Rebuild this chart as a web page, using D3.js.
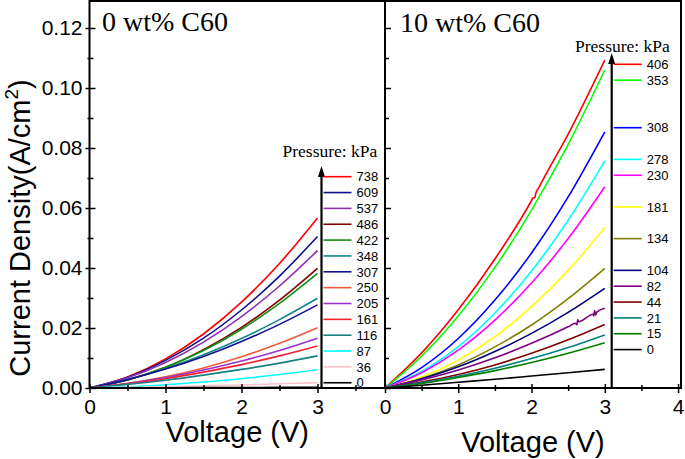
<!DOCTYPE html>
<html><head><meta charset="utf-8">
<script src="https://cdn.jsdelivr.net/npm/d3@7"></script>
<style>body{margin:0;background:#fff}svg{display:block}</style>
</head><body>
<svg id="c" width="685" height="459"></svg>
<script>
// ---------- DATA ----------
const voltages = [0, 0.5, 1, 1.5, 2, 2.5, 3];

const leftTitle = "0 wt% C60";
const leftPressures = [738, 609, 537, 486, 422, 348, 307, 250, 205, 161, 116, 87, 36, 0];
const leftColors = ["#ff0000", "#10108a", "#9030b0", "#800000", "#109010", "#108888", "#101090",
                    "#f05a3c", "#9932cc", "#ee2233", "#168080", "#00ffff", "#ffc0cb", "#000000"];
const leftValues = [
  [0, 0.0037, 0.0097, 0.0180, 0.0286, 0.0415, 0.0567],
  [0, 0.0036, 0.0092, 0.0166, 0.0260, 0.0373, 0.0505],
  [0, 0.0034, 0.0085, 0.0153, 0.0238, 0.0340, 0.0458],
  [0, 0.0027, 0.0069, 0.0128, 0.0202, 0.0293, 0.0399],
  [0, 0.0027, 0.0069, 0.0125, 0.0196, 0.0282, 0.0382],
  [0, 0.0028, 0.0065, 0.0111, 0.0165, 0.0228, 0.0299],
  [0, 0.0028, 0.0063, 0.0105, 0.0155, 0.0212, 0.0277],
  [0, 0.0015, 0.0037, 0.0067, 0.0104, 0.0149, 0.0201],
  [0, 0.0015, 0.0035, 0.0060, 0.0090, 0.0125, 0.0166],
  [0, 0.0014, 0.0031, 0.0053, 0.0078, 0.0107, 0.0140],
  [0, 0.0012, 0.0026, 0.0043, 0.0062, 0.0083, 0.0107],
  [0, 0.0004, 0.0011, 0.0020, 0.0031, 0.0045, 0.0061],
  [0, 0.0002, 0.0004, 0.0007, 0.0010, 0.0014, 0.0018],
  [0, 0.00003, 0.00007, 0.00011, 0.00015, 0.0002, 0.00025]
];

const rightTitle = "10 wt% C60";
const rightPressures = [406, 353, 308, 278, 230, 181, 134, 104, 82, 44, 21, 15, 0];
const rightColors = ["#ff0000", "#00ff00", "#0000ff", "#00ffff", "#ff00ff", "#ffff00", "#808000",
                     "#000080", "#800080", "#800000", "#008080", "#008000", "#000000"];
const rightValues = [
  [0, 0.0117, 0.0261, 0.0430, 0.0625, 0.0846, 0.1093],
  [0, 0.0106, 0.0240, 0.0402, 0.0593, 0.0812, 0.1060],
  [0, 0.0068, 0.0165, 0.0293, 0.0450, 0.0637, 0.0854],
  [0, 0.0055, 0.0138, 0.0250, 0.0390, 0.0559, 0.0757],
  [0, 0.0051, 0.0126, 0.0226, 0.0350, 0.0498, 0.0671],
  [0, 0.0036, 0.0093, 0.0171, 0.0271, 0.0392, 0.0534],
  [0, 0.0032, 0.0077, 0.0137, 0.0210, 0.0298, 0.0399],
  [0, 0.0031, 0.0071, 0.0122, 0.0182, 0.0252, 0.0332],
  [0, 0.0027, 0.0060, 0.0101, 0.0149, 0.0204, 0.0266],
  [0, 0.0020, 0.0045, 0.0077, 0.0116, 0.0161, 0.0212],
  [0, 0.0017, 0.0039, 0.0066, 0.0098, 0.0135, 0.0177],
  [0, 0.0015, 0.0035, 0.0058, 0.0085, 0.0116, 0.0151],
  [0, 0.0009, 0.0019, 0.0029, 0.0040, 0.0051, 0.0062]
];
// small measured glitches (voltage, current) in two of the 10 wt% curves
const glitch406 = [[2.02, 0.0634], [2.045, 0.0634], [2.055, 0.0646], [2.1, 0.0668]];
const glitch82 = [[2.60, 0.0216], [2.62, 0.0211], [2.63, 0.0228], [2.645, 0.0221],
                  [2.84, 0.0246], [2.85, 0.0240], [2.86, 0.0258], [2.875, 0.0243], [2.89, 0.0253]];
const rightLegendSlots = [0, 1, 4, 6, 7, 9, 11, 13, 14, 15, 16, 17, 18];

const yMajor = [0, 0.02, 0.04, 0.06, 0.08, 0.10, 0.12];
const yMinor = [0.01, 0.03, 0.05, 0.07, 0.09, 0.11];
const xMajorL = [0, 1, 2, 3];
const xMinorL = [0.5, 1.5, 2.5, 3.5];
const xMajorR = [0, 1, 2, 3, 4];
const xMinorR = [0.5, 1.5, 2.5, 3.5];

// ---------- LAYOUT ----------
const svg = d3.select("#c");
const SANS = "'Liberation Sans', Arial, sans-serif";
const SERIF = "'Liberation Serif', 'Times New Roman', serif";
const topY = 1, bottomY = 388;
const y = d3.scaleLinear().domain([0, 0.129]).range([bottomY, topY]);
const xL = d3.scaleLinear().domain([0, 3.888]).range([89.5, 385]);
const xR = d3.scaleLinear().domain([0, 4.04]).range([385, 681]);

function zip(vals) { return voltages.map((v, i) => [v, vals[i]]); }

function drawCurves(x, values, colors, extras) {
  const line = d3.line().x(d => x(d[0])).y(d => y(d[1])).curve(d3.curveMonotoneX);
  values.forEach((vals, i) => {
    let pts = zip(vals);
    if (extras && extras[i]) pts = pts.concat(extras[i]).sort((a, b) => a[0] - b[0]);
    svg.append("path").attr("d", line(pts)).attr("fill", "none")
      .attr("stroke", colors[i]).attr("stroke-width", 1.6);
  });
}

drawCurves(xL, leftValues, leftColors, null);
drawCurves(xR, rightValues, rightColors, {0: glitch406, 8: glitch82});

function styleAxis(g) {
  g.select(".domain").remove();
  g.selectAll("line").attr("stroke", "#000").attr("stroke-width", 1.5);
  g.selectAll("text").attr("font-family", SANS).attr("font-size", 21).attr("fill", "#000");
}
// left panel y axis
svg.append("g").attr("transform", `translate(${xL(0)},0)`)
  .call(d3.axisLeft(y).tickValues(yMajor).tickSize(4).tickPadding(3).tickFormat(d3.format(".2f"))).call(styleAxis);
svg.append("g").attr("transform", `translate(${xL(0)},0)`)
  .call(d3.axisLeft(y).tickValues(yMajor).tickSize(-6).tickFormat("")).call(styleAxis);
svg.append("g").attr("transform", `translate(${xL(0)},0)`)
  .call(d3.axisLeft(y).tickValues(yMinor).tickSize(2).tickFormat("")).call(styleAxis);
svg.append("g").attr("transform", `translate(${xL(0)},0)`)
  .call(d3.axisLeft(y).tickValues(yMinor).tickSize(-4).tickFormat("")).call(styleAxis);
// right panel y axis (inward ticks)
svg.append("g").attr("transform", `translate(${xR(0)},0)`)
  .call(d3.axisLeft(y).tickValues(yMajor).tickSize(-6).tickFormat("")).call(styleAxis);
svg.append("g").attr("transform", `translate(${xR(0)},0)`)
  .call(d3.axisLeft(y).tickValues(yMinor).tickSize(-4).tickFormat("")).call(styleAxis);

// x axes
[[xL, xMajorL, xMinorL], [xR, xMajorR, xMinorR]].forEach(([x, maj, min]) => {
  svg.append("g").attr("transform", `translate(0,${bottomY})`)
    .call(d3.axisBottom(x).tickValues(maj).tickSize(5).tickPadding(6).tickFormat(d3.format("d"))).call(styleAxis);
  svg.append("g").attr("transform", `translate(0,${bottomY})`)
    .call(d3.axisBottom(x).tickValues(maj).tickSize(-4).tickFormat("")).call(styleAxis);
  svg.append("g").attr("transform", `translate(0,${bottomY})`)
    .call(d3.axisBottom(x).tickValues(min).tickSize(3).tickFormat("")).call(styleAxis);
  svg.append("g").attr("transform", `translate(0,${bottomY})`)
    .call(d3.axisBottom(x).tickValues(min).tickSize(-3).tickFormat("")).call(styleAxis);
});

// frames
svg.append("rect").attr("x", xL(0)).attr("y", topY).attr("width", xR(0) - xL(0)).attr("height", bottomY - topY)
  .attr("fill", "none").attr("stroke", "#000").attr("stroke-width", 2);
svg.append("rect").attr("x", xR(0)).attr("y", topY).attr("width", xR.range()[1] - xR(0)).attr("height", bottomY - topY)
  .attr("fill", "none").attr("stroke", "#000").attr("stroke-width", 2);

// panel titles
svg.append("text").attr("x", 102).attr("y", 31).attr("font-family", SERIF).attr("font-size", 28).text(leftTitle);
svg.append("text").attr("x", 400).attr("y", 32).attr("font-family", SERIF).attr("font-size", 28).text(rightTitle);

// axis titles
svg.append("text").attr("x", (xL(0) + 385) / 2).attr("y", 442).attr("text-anchor", "middle")
  .attr("font-family", SANS).attr("font-size", 29).text("Voltage (V)");
svg.append("text").attr("x", (xR(0) + 681) / 2).attr("y", 452).attr("text-anchor", "middle")
  .attr("font-family", SANS).attr("font-size", 29).text("Voltage (V)");
const yt = svg.append("text").attr("transform", "translate(30,228) rotate(-90)").attr("text-anchor", "middle")
  .attr("font-family", SANS).attr("font-size", 29);
yt.append("tspan").text("Current Density(A/cm");
yt.append("tspan").attr("font-size", 19).attr("dy", -12).text("2");
yt.append("tspan").attr("dy", 12).text(")");

// legends
function legend(arrowX, tipY, titleX, titleY, startY, slots, pressures, colors) {
  svg.append("text").attr("x", titleX).attr("y", titleY).attr("font-family", SERIF).attr("font-size", 17.5).text("Pressure: kPa");
  svg.append("line").attr("x1", arrowX).attr("x2", arrowX).attr("y1", bottomY).attr("y2", tipY + 8)
    .attr("stroke", "#000").attr("stroke-width", 2.2);
  svg.append("path").attr("d", `M${arrowX},${tipY} L${arrowX - 3.5},${tipY + 11} L${arrowX + 3.5},${tipY + 11} Z`).attr("fill", "#000");
  pressures.forEach((p, i) => {
    const ly = startY + slots[i] * 15.85;
    svg.append("line").attr("x1", arrowX + 2).attr("x2", arrowX + 30).attr("y1", ly).attr("y2", ly)
      .attr("stroke", colors[i]).attr("stroke-width", 1.6);
    svg.append("text").attr("x", arrowX + 35).attr("y", ly + 4.7).attr("font-family", SANS).attr("font-size", 13).text(p);
  });
}
legend(321.5, 166, 282.5, 157, 176.7, leftPressures.map((d, i) => i), leftPressures, leftColors);
legend(611.7, 53, 575, 52, 64.3, rightLegendSlots, rightPressures, rightColors);
</script>
</body></html>
